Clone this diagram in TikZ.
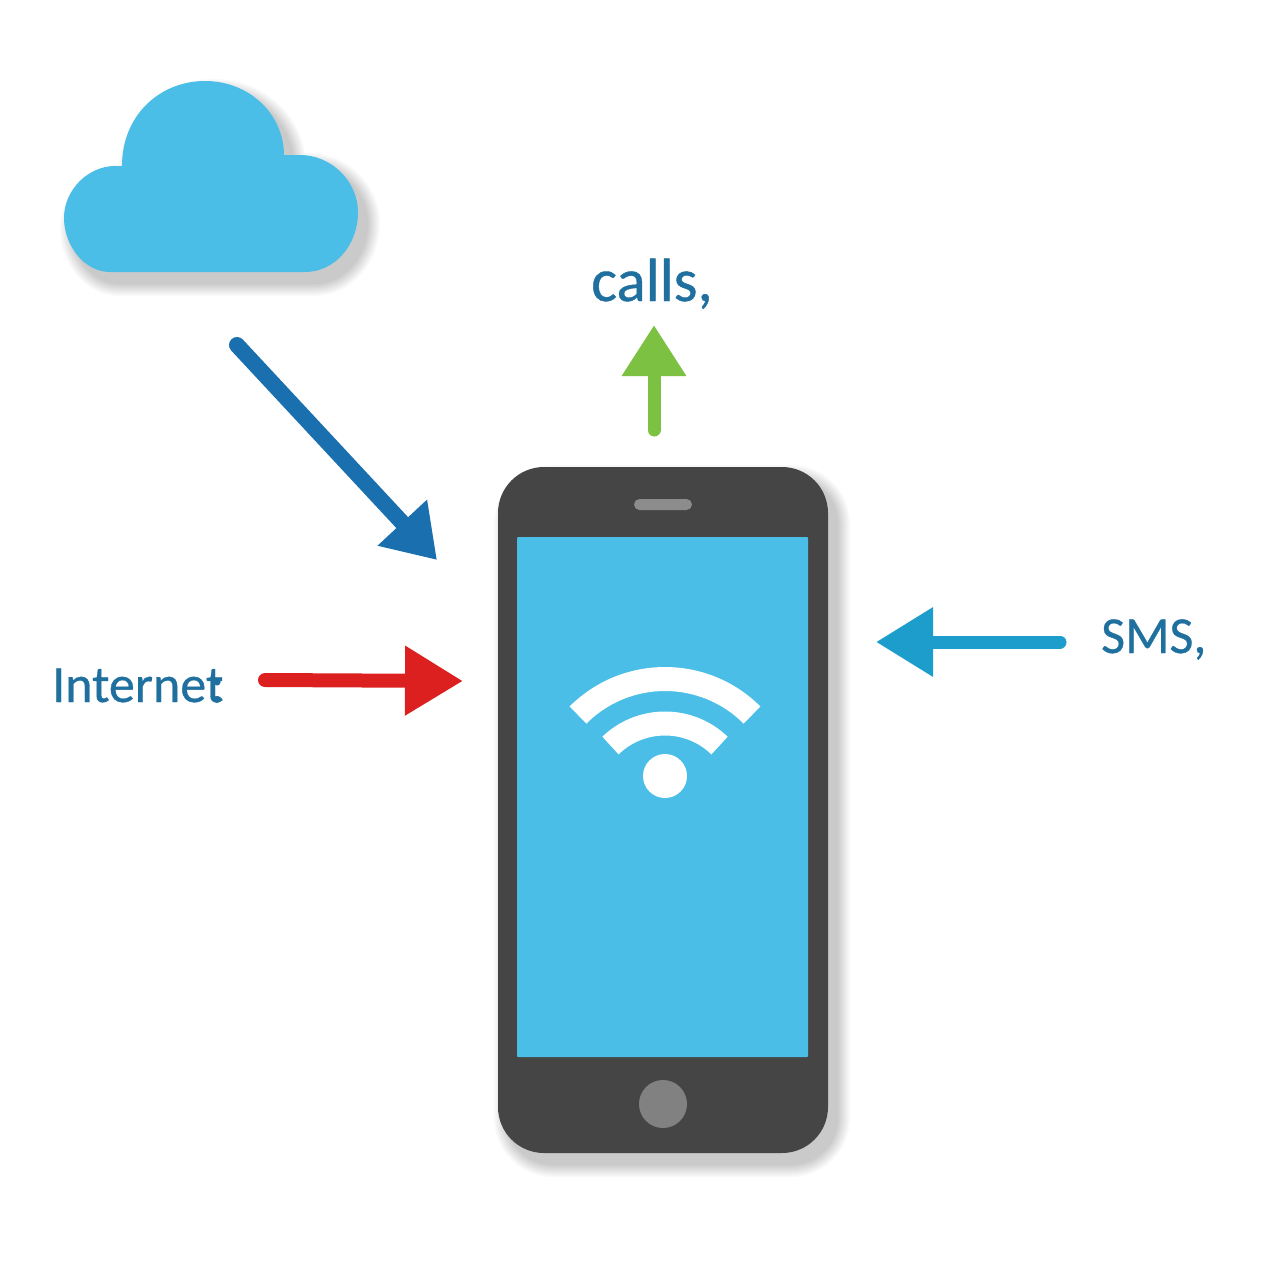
\documentclass[tikz,border=0pt]{standalone}
\usepackage{fontspec}
\setmainfont[FakeBold=0.6]{Carlito}
\usetikzlibrary{arrows.meta}
\definecolor{skyfill}{HTML}{4ABEE6}
\definecolor{phonedark}{HTML}{454545}
\definecolor{greypart}{HTML}{8C8C8C}
\definecolor{textblue}{HTML}{1F6F9F}
\definecolor{arrblue}{HTML}{1A70AE}
\definecolor{arrred}{HTML}{DC2020}
\definecolor{arrgreen}{HTML}{7CC142}
\definecolor{arrcyan}{HTML}{1C9DCB}
\newcommand{\cloudpath}{(110,272) .. controls (84,272) and (64,245) .. (64,218) .. controls (64,190) and (88,166) .. (115,166) -- (122,166) .. controls (122,115) and (160,81) .. (205,81) .. controls (250,81) and (284,115) .. (284,155) -- (300,155) .. controls (332,155) and (358,182) .. (358,212) .. controls (358,245) and (335,272) .. (305,272) -- cycle}
\newcommand{\softlayers}[2]{\foreach \w in {26,23,20,17,14,11,8,5,2}{\begin{scope}[transparency group,opacity=.024]\path[shift={#1},fill=black,draw=black,line width=\w pt,line join=round] #2;\end{scope}}}
\tikzset{
  label text/.style={font=\fontsize{#1}{#1}\selectfont,text=textblue,anchor=base west,inner sep=0pt},
  flow/.style={line cap=round,line width=#1},
  wifi arc/.style={white,line width=24pt}
}
\begin{document}
\begin{tikzpicture}[x=1pt,y=-1pt]
\useasboundingbox (0,0) rectangle (1280,1280);
\fill[white] (0,0) rectangle (1280,1280);
% cloud
\softlayers{(9,11)}{\cloudpath}
\fill[skyfill] \cloudpath;
% phone
\softlayers{(9,11)}{[rounded corners=46pt] (498,467) rectangle (828,1153)}
\node[name=phone,rectangle,rounded corners=46pt,fill=phonedark,minimum width=330pt,minimum height=686pt,inner sep=0pt] at (663,810) {};
\node[name=screen,rectangle,rounded corners=1pt,fill=skyfill,minimum width=291pt,minimum height=520pt,inner sep=0pt] at (662.5,797) {};
\node[name=speaker,rectangle,rounded corners=5.5pt,fill=greypart,minimum width=58pt,minimum height=11pt,inner sep=0pt] at (663,504.5) {};
\node[name=homebtn,circle,fill=greypart!92!black,minimum size=48pt,inner sep=0pt] at (663,1104) {};
% wifi
\coordinate (wificentre) at (665,802);
\draw[wifi arc] (wificentre) ++(225:123) arc[start angle=225,end angle=315,radius=123];
\draw[wifi arc] (wificentre) ++(226:78.5) arc[start angle=226,end angle=314,radius=78.5];
\node[name=wifidot,circle,fill=white,minimum size=44pt,inner sep=0pt] at (665,776) {};
% labels
\node[name=callslabel,label text=61pt] at (591,301) {calls,};
\node[name=smslabel,label text=52pt] at (1101,653) {SMS,};
\node[name=netlabel,label text=52pt] at (52,702) {Internet\kern-13pt:};
% arrows
\coordinate (bluefrom) at (237,345);
\coordinate (blueto) at (437,560);
\coordinate (redfrom) at (265,680);
\coordinate (redto) at (463,681);
\coordinate (cyanfrom) at (1060,642);
\coordinate (cyanto) at (876,642);
\coordinate (greenfrom) at (654,430);
\coordinate (greento) at (654,325);
\draw[flow=16pt,arrblue,-{Triangle[length=51pt,width=64pt]}] (bluefrom) -- (blueto);
\draw[flow=14pt,arrred,-{Triangle[length=58pt,width=66pt]}] (redfrom) -- (redto);
\draw[flow=13pt,arrcyan,-{Triangle[length=57pt,width=66pt]}] (cyanfrom) -- (cyanto);
\draw[flow=13pt,arrgreen,-{Triangle[length=51pt,width=61pt]}] (greenfrom) -- (greento);
\end{tikzpicture}
\end{document}
